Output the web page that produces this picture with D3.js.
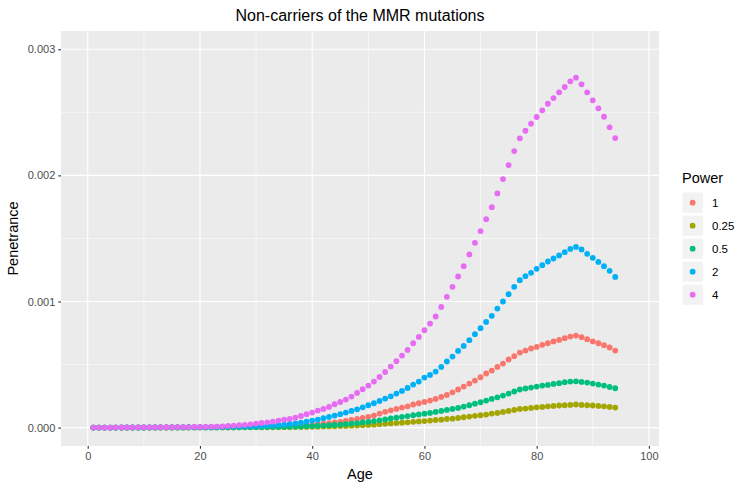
<!DOCTYPE html>
<html>
<head>
<meta charset="utf-8">
<script src="https://cdn.jsdelivr.net/npm/d3@7"></script>
<style>
  body { margin: 0; background: #fff; }
  text { font-family: "Liberation Sans", Arial, Helvetica, sans-serif; }
</style>
</head>
<body>
<svg id="chart" width="749" height="489"></svg>
<script>
// data, ages 1..94
const ages = [1,2,3,4,5,6,7,8,9,10,11,12,13,14,15,16,17,18,19,20,21,22,23,24,25,26,27,28,29,30,
  31,32,33,34,35,36,37,38,39,40,41,42,43,44,45,46,47,48,49,50,51,52,53,54,55,56,57,58,59,60,
  61,62,63,64,65,66,67,68,69,70,71,72,73,74,75,76,77,78,79,80,81,82,83,84,85,86,87,88,89,90,
  91,92,93,94];

const powers = ['1', '0.25', '0.5', '2', '4'];
const colors = ['#F8766D', '#A3A500', '#00BF7D', '#00B0F6', '#E76BF3'];

const pen_1 = [0,0,0,0,0,0,0.000001,0.000001,0.000001,0.000001,
  0.000001,0.000001,0.000001,0.000001,0.000001,0.000001,0.000001,0.000002,0.000002,0.000002,
  0.000002,0.000002,0.000003,0.000003,0.000003,0.000004,0.000004,0.000005,0.000006,0.000006,
  0.000007,0.000008,0.000009,0.000010,0.000012,0.000014,0.000016,0.000018,0.000021,0.000024,
  0.000028,0.000032,0.000036,0.000041,0.000046,0.000053,0.000060,0.000068,0.000077,0.000085,
  0.000095,0.000111,0.000125,0.000137,0.000148,0.000159,0.000169,0.000183,0.000193,0.000203,
  0.000214,0.000227,0.000243,0.000259,0.000280,0.000302,0.000325,0.000349,0.000373,0.000399,
  0.000429,0.000452,0.000481,0.000508,0.000540,0.000566,0.000595,0.000611,0.000627,0.000640,
  0.000656,0.000669,0.000683,0.000695,0.000709,0.000722,0.000730,0.000717,0.000701,0.000683,
  0.000669,0.000653,0.000635,0.000611];

const pen_025 = [0,0,0,0,0,0,0,0,0,0,
  0,0,0,0,0.000001,0.000001,0.000001,0.000001,0.000001,0.000001,
  0.000001,0.000001,0.000001,0.000001,0.000001,0.000001,0.000002,0.000002,0.000002,0.000002,
  0.000002,0.000002,0.000002,0.000003,0.000003,0.000003,0.000004,0.000004,0.000005,0.000006,
  0.000007,0.000008,0.000009,0.000010,0.000012,0.000013,0.000015,0.000017,0.000019,0.000021,
  0.000023,0.000026,0.000030,0.000033,0.000036,0.000039,0.000042,0.000046,0.000049,0.000052,
  0.000056,0.000060,0.000063,0.000068,0.000071,0.000076,0.000082,0.000087,0.000093,0.000098,
  0.000103,0.000111,0.000116,0.000124,0.000132,0.000140,0.000148,0.000151,0.000156,0.000161,
  0.000164,0.000169,0.000172,0.000175,0.000177,0.000180,0.000183,0.000180,0.000177,0.000175,
  0.000172,0.000169,0.000164,0.000159];

const pen_05 = [0,0,0,0,0,0,0,0,0,0,
  0,0.000001,0.000001,0.000001,0.000001,0.000001,0.000001,0.000001,0.000001,0.000001,
  0.000001,0.000001,0.000001,0.000002,0.000002,0.000002,0.000002,0.000003,0.000003,0.000003,
  0.000004,0.000004,0.000005,0.000005,0.000006,0.000007,0.000008,0.000009,0.000011,0.000012,
  0.000014,0.000016,0.000019,0.000021,0.000024,0.000028,0.000032,0.000036,0.000041,0.000046,
  0.000052,0.000058,0.000065,0.000073,0.000079,0.000085,0.000091,0.000098,0.000104,0.000110,
  0.000116,0.000124,0.000132,0.000140,0.000148,0.000156,0.000167,0.000177,0.000190,0.000201,
  0.000214,0.000227,0.000240,0.000254,0.000270,0.000286,0.000302,0.000310,0.000317,0.000325,
  0.000333,0.000338,0.000346,0.000352,0.000360,0.000365,0.000367,0.000362,0.000357,0.000349,
  0.000341,0.000333,0.000322,0.000312];

const pen_2 = [0,0,0,0,0,0.000001,0.000001,0.000001,0.000001,0.000001,
  0.000001,0.000001,0.000002,0.000002,0.000002,0.000002,0.000002,0.000003,0.000003,0.000003,
  0.000004,0.000004,0.000005,0.000006,0.000007,0.000008,0.000009,0.000010,0.000011,0.000012,
  0.000014,0.000016,0.000018,0.000021,0.000024,0.000029,0.000034,0.000040,0.000048,0.000056,
  0.000063,0.000074,0.000084,0.000095,0.000106,0.000119,0.000132,0.000145,0.000161,0.000177,
  0.000193,0.000211,0.000230,0.000248,0.000270,0.000291,0.000314,0.000341,0.000365,0.000397,
  0.000418,0.000444,0.000481,0.000524,0.000563,0.000608,0.000648,0.000693,0.000741,0.000788,
  0.000838,0.000886,0.000944,0.001000,0.001058,0.001116,0.001169,0.001201,0.001227,0.001259,
  0.001288,0.001317,0.001341,0.001365,0.001391,0.001417,0.001433,0.001413,0.001378,0.001346,
  0.001314,0.001280,0.001243,0.001195];

const pen_4 = [0,0,0,0,0.000001,0.000001,0.000001,0.000001,0.000002,0.000002,
  0.000002,0.000002,0.000003,0.000003,0.000003,0.000004,0.000004,0.000004,0.000005,0.000005,
  0.000006,0.000007,0.000008,0.000010,0.000013,0.000016,0.000019,0.000022,0.000026,0.000032,
  0.000037,0.000042,0.000048,0.000056,0.000062,0.000069,0.000079,0.000092,0.000106,0.000119,
  0.000135,0.000148,0.000164,0.000185,0.000203,0.000222,0.000246,0.000275,0.000304,0.000333,
  0.000365,0.000402,0.000441,0.000484,0.000526,0.000571,0.000616,0.000669,0.000719,0.000772,
  0.000825,0.000881,0.000957,0.001037,0.001116,0.001198,0.001280,0.001373,0.001465,0.001558,
  0.001653,0.001748,0.001857,0.001971,0.002082,0.002193,0.002294,0.002354,0.002410,0.002463,
  0.002516,0.002568,0.002613,0.002659,0.002701,0.002746,0.002775,0.002722,0.002659,0.002595,
  0.002532,0.002465,0.002381,0.002296];

const series = [pen_1, pen_025, pen_05, pen_2, pen_4];

const x_breaks = [0, 20, 40, 60, 80, 100];
const x_minor = [10, 30, 50, 70, 90];
const y_breaks = [0, 0.001, 0.002, 0.003];
const y_minor = [0.0005, 0.0015, 0.0025];
const y_labels = ['0.000', '0.001', '0.002', '0.003'];

// panel
const panel = {left: 61, right: 659, top: 31, bottom: 446};

const x = d3.scaleLinear().domain([-4.76, 101.8]).range([panel.left, panel.right]);
const y = d3.scaleLinear().domain([-0.000146, 0.003145]).range([panel.bottom, panel.top]);

const svg = d3.select('#chart');

svg.append('rect')
  .attr('x', panel.left).attr('y', panel.top)
  .attr('width', panel.right - panel.left).attr('height', panel.bottom - panel.top)
  .attr('fill', '#EBEBEB');

let grid = svg.append('g');
grid.selectAll('.mx').data(x_minor).enter().append('line')
  .attr('x1', d => x(d)).attr('x2', d => x(d))
  .attr('y1', panel.top).attr('y2', panel.bottom)
  .attr('stroke', '#fff').attr('stroke-width', 0.55);
grid.selectAll('.my').data(y_minor).enter().append('line')
  .attr('y1', d => y(d)).attr('y2', d => y(d))
  .attr('x1', panel.left).attr('x2', panel.right)
  .attr('stroke', '#fff').attr('stroke-width', 0.55);
grid.selectAll('.gx').data(x_breaks).enter().append('line')
  .attr('x1', d => x(d)).attr('x2', d => x(d))
  .attr('y1', panel.top).attr('y2', panel.bottom)
  .attr('stroke', '#fff').attr('stroke-width', 1.1);
grid.selectAll('.gy').data(y_breaks).enter().append('line')
  .attr('y1', d => y(d)).attr('y2', d => y(d))
  .attr('x1', panel.left).attr('x2', panel.right)
  .attr('stroke', '#fff').attr('stroke-width', 1.1);

// points
series.forEach(function(vals, i) {
  svg.append('g').selectAll('circle').data(vals).enter().append('circle')
    .attr('cx', (d, j) => x(ages[j]))
    .attr('cy', d => y(d))
    .attr('r', 2.9)
    .attr('fill', colors[i]);
});

// axes
const xAxis = d3.axisBottom(x).tickValues(x_breaks).tickSize(2.75).tickPadding(3);
const yAxis = d3.axisLeft(y).tickValues(y_breaks).tickSize(2.75).tickPadding(3)
  .tickFormat((d, i) => y_labels[i]);

let gx = svg.append('g').attr('transform', 'translate(0,' + panel.bottom + ')').call(xAxis);
let gy = svg.append('g').attr('transform', 'translate(' + panel.left + ',0)').call(yAxis);
[gx, gy].forEach(function(g) {
  g.select('.domain').remove();
  g.selectAll('.tick line').attr('stroke', '#333333').attr('stroke-width', 1.1);
  g.selectAll('.tick text').attr('fill', '#4D4D4D').style('font-size', '11px')
    .style('font-family', '"Liberation Sans", Arial, sans-serif');
});

// titles
svg.append('text')
  .attr('x', (panel.left + panel.right) / 2).attr('y', 21)
  .attr('text-anchor', 'middle').style('font-size', '16px').attr('fill', '#000')
  .text('Non-carriers of the MMR mutations');

svg.append('text')
  .attr('x', (panel.left + panel.right) / 2).attr('y', 479)
  .attr('text-anchor', 'middle').style('font-size', '14.5px').attr('fill', '#000')
  .text('Age');

svg.append('text')
  .attr('transform', 'translate(18,' + ((panel.top + panel.bottom) / 2) + ') rotate(-90)')
  .attr('text-anchor', 'middle').style('font-size', '14.5px').attr('fill', '#000')
  .text('Penetrance');

// legend
let legend = svg.append('g').attr('transform', 'translate(682,0)');
legend.append('text').attr('x', 0).attr('y', 183)
  .style('font-size', '14.5px').attr('fill', '#000').text('Power');

let keys = legend.selectAll('.key').data(powers).enter().append('g')
  .attr('transform', (d, i) => 'translate(0,' + (192 + i * 23) + ')');
keys.append('rect').attr('width', 21.3).attr('height', 21.3)
  .attr('fill', '#F2F2F2').attr('stroke', '#fff').attr('stroke-width', 1);
keys.append('circle').attr('cx', 10.65).attr('cy', 10.65).attr('r', 2.9)
  .attr('fill', (d, i) => colors[i]);
keys.append('text').attr('x', 30).attr('y', 14.5)
  .style('font-size', '11.5px').attr('fill', '#000').text(d => d);
</script>
</body>
</html>
